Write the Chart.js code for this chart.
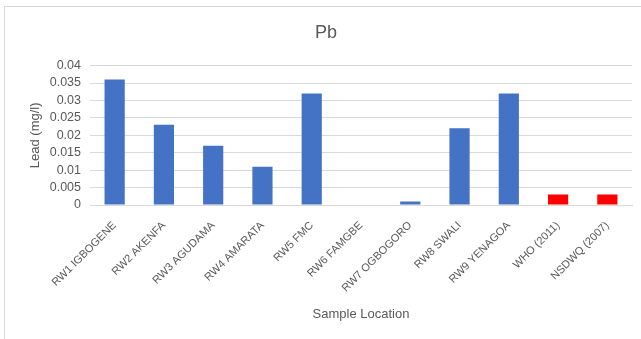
<!DOCTYPE html>
<html>
<head>
<meta charset="utf-8">
<script src="https://cdn.jsdelivr.net/npm/chart.js@4.4.1/dist/chart.umd.min.js"></script>
<style>
  html, body { margin: 0; padding: 0; background: #fff; }
  #wrap { position: relative; width: 641px; height: 339px; overflow: hidden; }
  #frame { position: absolute; left: 4px; top: 6px; width: 700px; height: 400px;
           border-left: 1px solid #d9d9d9; border-top: 1px solid #d9d9d9; }
  canvas { position: absolute; left: 0; top: 0; }
</style>
</head>
<body>
<div id="wrap">
  <div id="frame"></div>
  <canvas id="c" width="641" height="339"></canvas>
</div>
<script>
const categories = ["RW1 IGBOGENE", "RW2 AKENFA", "RW3 AGUDAMA", "RW4 AMARATA", "RW5 FMC",
  "RW6 FAMGBE", "RW7 OGBOGORO", "RW8 SWALI", "RW9 YENAGOA", "WHO (2011)", "NSDWQ (2007)"];
const leadValues = [0.036, 0.023, 0.017, 0.011, 0.032, 0, 0.001, 0.022, 0.032, 0.003, 0.003];
const barColors = ["#4472C4", "#4472C4", "#4472C4", "#4472C4", "#4472C4", "#4472C4",
  "#4472C4", "#4472C4", "#4472C4", "#FF0000", "#FF0000"];
const yTicks = [0, 0.005, 0.01, 0.015, 0.02, 0.025, 0.03, 0.035, 0.04];

const textColor = "#595959";
const gridColor = "#d9d9d9";
const fam = "'Liberation Sans', Arial, sans-serif";

new Chart(document.getElementById("c"), {
  type: "bar",
  data: {
    labels: categories,
    datasets: [{
      label: "Pb",
      data: leadValues,
      backgroundColor: barColors,
      borderWidth: 0,
      categoryPercentage: 1,
      barPercentage: 0.41
    }]
  },
  options: {
    responsive: false,
    animation: false,
    layout: { padding: { left: 20, right: 9, top: 0, bottom: 17 } },
    plugins: {
      legend: { display: false },
      tooltip: { enabled: false },
      title: {
        display: true,
        text: "Pb",
        color: textColor,
        font: { family: fam, size: 18, weight: "normal" },
        padding: { top: 22, bottom: 22 }
      }
    },
    scales: {
      x: {
        grid: { display: false, drawTicks: false },
        border: { display: true, color: gridColor },
        ticks: {
          color: textColor,
          font: { family: fam, size: 11 },
          minRotation: 45,
          maxRotation: 45,
          autoSkip: false,
          padding: 14
        },
        title: {
          display: true,
          text: "Sample Location",
          color: textColor,
          font: { family: fam, size: 13 },
          padding: { top: 0, bottom: 0 }
        },
        afterFit: (s) => { s.height = 117; }
      },
      y: {
        min: 0,
        max: 0.04,
        afterBuildTicks: (s) => { s.ticks = yTicks.map(v => ({ value: v })); },
        grid: { color: gridColor, drawTicks: false },
        border: { display: false },
        ticks: {
          color: textColor,
          font: { family: fam, size: 12.5 },
          padding: 9,
          autoSkip: false,
          callback: (v) => String(+v.toFixed(3))
        },
        title: {
          display: true,
          text: "Lead (mg/l)",
          color: textColor,
          font: { family: fam, size: 13 },
          padding: { top: 8, bottom: 0 }
        },
        afterFit: (s) => { s.width = 70; }
      }
    }
  }
});
</script>
</body>
</html>
